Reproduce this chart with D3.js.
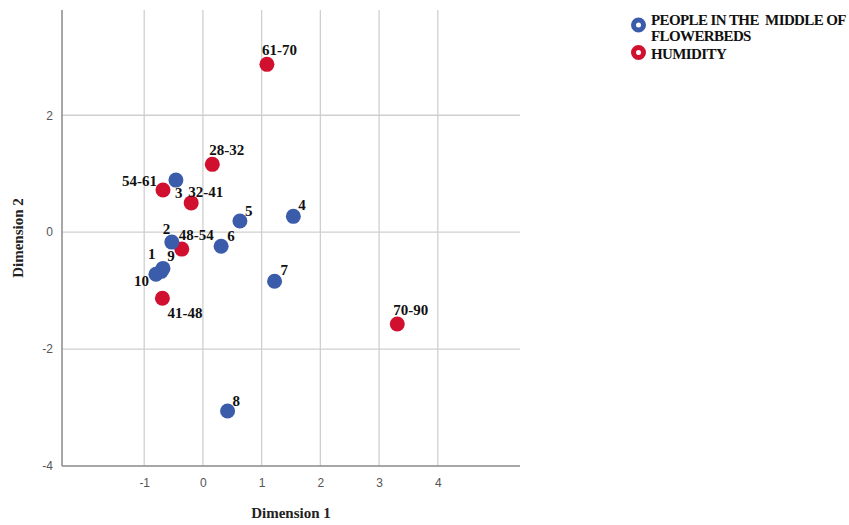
<!DOCTYPE html>
<html>
<head>
<meta charset="utf-8">
<script src="https://cdn.jsdelivr.net/npm/d3@7"></script>
<style>
  html, body { margin: 0; padding: 0; background: #fff; }
  svg { display: block; }
</style>
</head>
<body>
<svg id="chart" width="849" height="525"></svg>
<script>
// Object points (blue series)
const peopleLabels = ["1", "2", "3", "4", "5", "6", "7", "8", "9", "10"];
const peopleDim1   = [-0.68, -0.53, -0.46, 1.54, 0.63, 0.31, 1.22, 0.42, -0.71, -0.80];
const peopleDim2   = [-0.62, -0.17, 0.89, 0.27, 0.19, -0.24, -0.84, -3.06, -0.67, -0.72];

// Category points (red series)
const humidityLabels = ["28-32", "32-41", "41-48", "48-54", "54-61", "61-70", "70-90"];
const humidityDim1   = [0.16, -0.20, -0.69, -0.36, -0.68, 1.09, 3.31];
const humidityDim2   = [1.16, 0.50, -1.13, -0.29, 0.72, 2.87, -1.57];

const xTicks = [-1, 0, 1, 2, 3, 4];
const yTicks = [-4, -2, 0, 2];
const seriesNames = ["PEOPLE IN THE  MIDDLE OF FLOWERBEDS", "HUMIDITY"];

// label placement, offsets in px from the marker centre
const labelOffsets = {
  "people": {
    "1": [-15, -9, "start"], "2": [-9, -8, "start"], "3": [-1, 18, "start"],
    "4": [5, -6, "start"], "5": [5, -5, "start"], "6": [6, -5, "start"],
    "7": [6, -6, "start"], "8": [5, -5, "start"], "9": [6, -10, "start"],
    "10": [-22, 12, "start"]
  },
  "humidity": {
    "28-32": [-3, -9, "start"], "32-41": [-3, -6, "start"], "41-48": [5, 20, "start"],
    "48-54": [-3, -9, "start"], "54-61": [-6, -4, "end"], "61-70": [-5, -9, "start"],
    "70-90": [-4, -9, "start"]
  }
};

const blue = "#3a5caa";
const red = "#d1102f";

const svg = d3.select("#chart");
const plot = { left: 62, top: 10, right: 520, bottom: 466 };

const x = d3.scaleLinear().domain([-2.4, 5.4]).range([plot.left, plot.right]);
const y = d3.scaleLinear().domain([-4, 3.8]).range([plot.bottom, plot.top]);

// grid lines
const grid = svg.append("g");
grid.selectAll("line.vx").data(xTicks).join("line")
  .attr("x1", d => x(d)).attr("x2", d => x(d))
  .attr("y1", plot.top).attr("y2", plot.bottom)
  .attr("stroke", "#cfcfcf").attr("stroke-width", 1.3);
grid.selectAll("line.hy").data(yTicks.filter(d => d !== -4)).join("line")
  .attr("x1", plot.left).attr("x2", plot.right)
  .attr("y1", d => y(d)).attr("y2", d => y(d))
  .attr("stroke", "#cfcfcf").attr("stroke-width", 1.3);

// axes
const fmt = d => String(d);
const xAxis = d3.axisBottom(x).tickValues(xTicks).tickSize(0).tickPadding(12).tickFormat(fmt);
const yAxis = d3.axisLeft(y).tickValues(yTicks).tickSize(0).tickPadding(9).tickFormat(fmt);

const gx = svg.append("g").attr("transform", `translate(0,${plot.bottom})`).call(xAxis);
const gy = svg.append("g").attr("transform", `translate(${plot.left},0)`).call(yAxis);
[gx, gy].forEach(g => {
  g.select(".domain").attr("stroke", "#8a8a8a").attr("stroke-width", 1.5);
  g.selectAll("text").attr("font-family", "Liberation Sans, Arial, sans-serif")
    .attr("font-size", 12).attr("fill", "#555");
});
gx.select(".domain").attr("d", `M${plot.left},0H${plot.right}`);
gy.select(".domain").attr("d", `M0,${plot.top}V${plot.bottom}`);

// axis titles
svg.append("text")
  .attr("x", (plot.left + plot.right) / 2).attr("y", 518)
  .attr("text-anchor", "middle")
  .attr("font-family", "Liberation Serif, Times New Roman, serif")
  .attr("font-weight", "bold").attr("font-size", 15).attr("fill", "#222")
  .text("Dimension 1");
svg.append("text")
  .attr("transform", `translate(23,${(plot.top + plot.bottom) / 2}) rotate(-90)`)
  .attr("text-anchor", "middle")
  .attr("font-family", "Liberation Serif, Times New Roman, serif")
  .attr("font-weight", "bold").attr("font-size", 15).attr("fill", "#222")
  .text("Dimension 2");

function series(labels, d1, d2, color, key) {
  const data = labels.map((l, i) => ({ label: l, d1: d1[i], d2: d2[i] }));
  const g = svg.append("g");
  g.selectAll("circle").data(data).join("circle")
    .attr("cx", d => x(d.d1)).attr("cy", d => y(d.d2))
    .attr("r", 7.5).attr("fill", color);
  return data.map(d => ({ ...d, key }));
}

// draw red first so blue sits over it where they overlap
const hData = series(humidityLabels, humidityDim1, humidityDim2, red, "humidity");
const pData = series(peopleLabels, peopleDim1, peopleDim2, blue, "people");

svg.append("g").selectAll("text").data(hData.concat(pData)).join("text")
  .attr("x", d => x(d.d1) + labelOffsets[d.key][d.label][0])
  .attr("y", d => y(d.d2) + labelOffsets[d.key][d.label][1])
  .attr("text-anchor", d => labelOffsets[d.key][d.label][2])
  .attr("font-family", "Liberation Serif, Times New Roman, serif")
  .attr("font-weight", "bold").attr("font-size", 15).attr("fill", "#111")
  .text(d => d.label);

// legend
const legend = svg.append("g").attr("font-family", "Liberation Serif, Times New Roman, serif")
  .attr("font-weight", "bold").attr("font-size", 15).attr("fill", "#111");
const legendItems = [
  { color: blue, cy: 25 },
  { color: red, cy: 52.5 }
];
legendItems.forEach(it => {
  legend.append("circle").attr("cx", 638.5).attr("cy", it.cy).attr("r", 5)
    .attr("fill", "#fff").attr("stroke", it.color).attr("stroke-width", 5);
});
legend.append("text").attr("x", 651).attr("y", 25).attr("letter-spacing", -0.6)
  .style("white-space", "pre").text(seriesNames[0].slice(0, 24));
legend.append("text").attr("x", 651).attr("y", 41).attr("letter-spacing", -0.6)
  .text(seriesNames[0].slice(25));
legend.append("text").attr("x", 651).attr("y", 59).attr("letter-spacing", -0.6)
  .text(seriesNames[1]);
</script>
</body>
</html>
